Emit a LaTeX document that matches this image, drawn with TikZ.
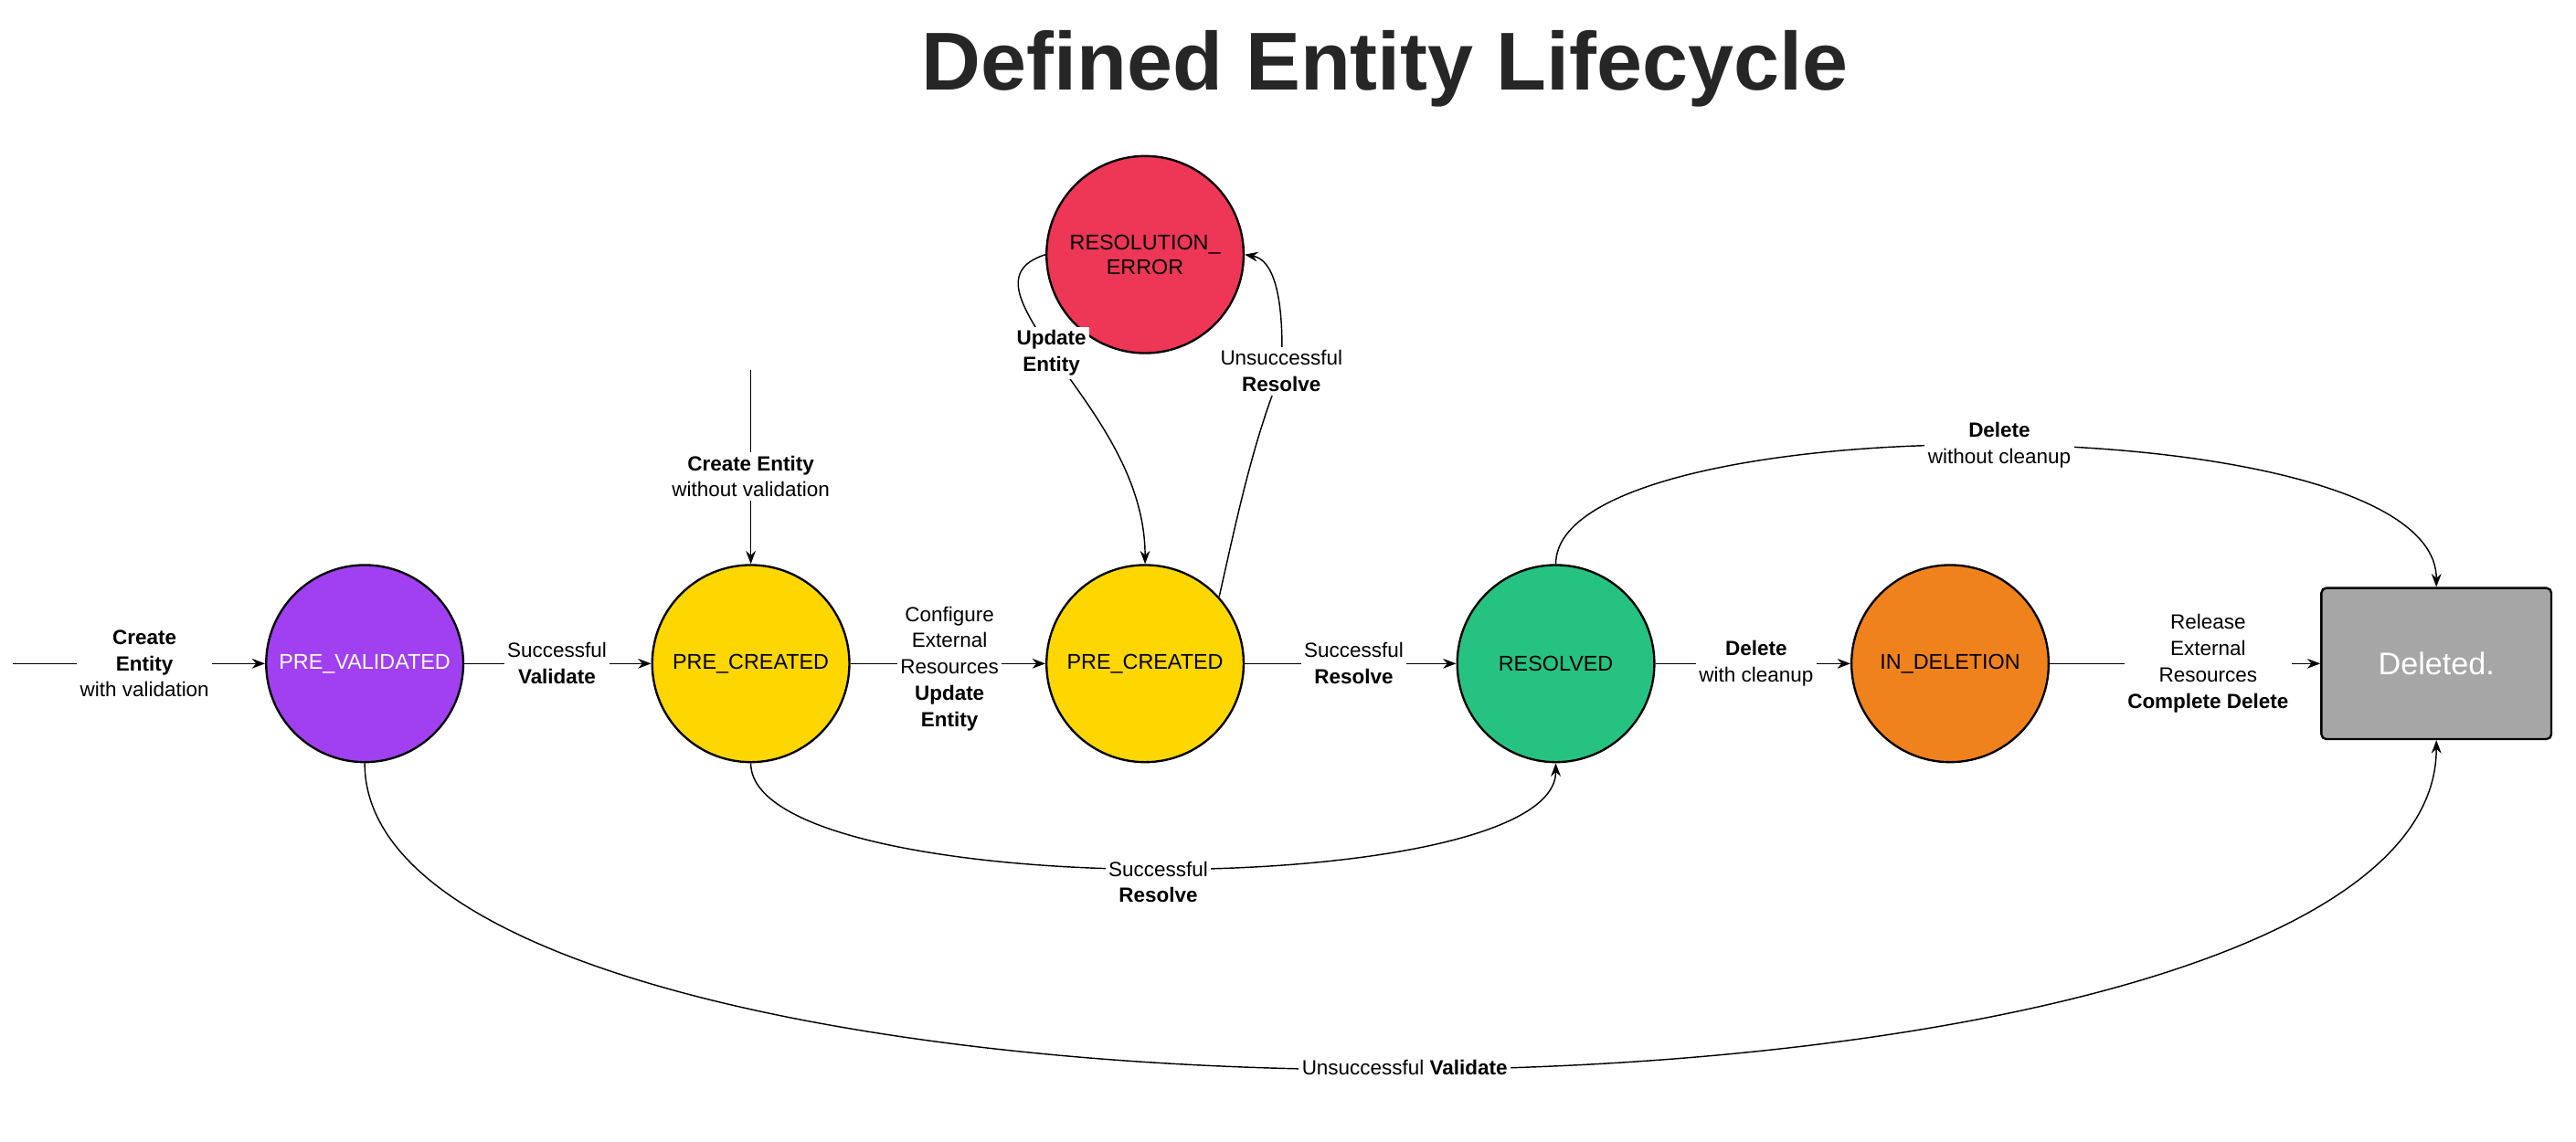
\documentclass[tikz,border=0pt]{standalone}
\usepackage{fontspec}
\setmainfont{Liberation Sans}
\usetikzlibrary{arrows.meta,backgrounds}
\definecolor{cpur}{HTML}{A040F0}
\definecolor{cyel}{HTML}{FFD700}
\definecolor{cred}{HTML}{EE3656}
\definecolor{cgrn}{HTML}{26C281}
\definecolor{corg}{HTML}{F0821E}
\definecolor{cgry}{HTML}{A6A6A6}
\begin{document}
\begin{tikzpicture}[x=1pt,y=-1pt,
  st/.style={circle,draw=black,line width=1.3pt,minimum size=120pt,inner sep=0pt,font=\fontsize{13}{15}\selectfont},
  lbl/.style={fill=white,align=center,inner sep=2pt,font=\fontsize{12.5}{16}\selectfont},
  ed/.style={line width=0.8pt,-{Stealth[length=8pt,width=6pt]}}]
\useasboundingbox (0,0) rectangle (1568,695);
\node[font=\fontsize{50}{56}\selectfont\bfseries,text=black!85] (title) at (843,42) {Defined Entity Lifecycle};
\node[st,fill=cpur,text=white] (pv) at (222,404) {PRE\_VALIDATED};
\node[st,fill=cyel] (pc1) at (457,404) {PRE\_CREATED};
\node[st,fill=cyel] (pc2) at (697,404) {PRE\_CREATED};
\node[st,fill=cgrn] (res) at (947,404) {RESOLVED};
\node[st,fill=corg] (ind) at (1187,404) {IN\_DELETION};
\node[st,fill=cred,align=center] (err) at (697,155) {RESOLUTION\_\\ERROR};
\node[draw=black,line width=1.3pt,fill=cgry,rounded corners=3pt,minimum width=140pt,minimum height=92pt,text=white,font=\fontsize{19}{22}\selectfont] (del) at (1483,404) {Deleted.};
\coordinate (s1) at (8,404);
\coordinate (s2) at (457,225);
\node[lbl] (l1) at (88,404) {\textbf{Create}\\\textbf{Entity}\\with validation};
\node[lbl] (l2) at (457,290) {\textbf{Create Entity}\\without validation};
\node[lbl] (l3) at (339,404) {Successful\\\textbf{Validate}};
\node[lbl] (l4) at (578,407) {Configure\\External\\Resources\\\textbf{Update}\\\textbf{Entity}};
\node[lbl] (l5) at (824,404) {Successful\\\textbf{Resolve}};
\node[lbl] (l6) at (1069,404) {\textbf{Delete}\\with cleanup};
\node[lbl] (l7) at (1344,404) {Release\\External\\Resources\\\textbf{Complete Delete}};
\node[lbl] (l8) at (705,537) {Successful\\\textbf{Resolve}};
\node[lbl] (l9) at (855,650) {Unsuccessful \textbf{Validate}};
\node[lbl] (l10) at (1217,271) {\textbf{Delete}\\without cleanup};
\node[lbl] (ue) at (640,215) {\textbf{Update}\\\textbf{Entity}};
\node[lbl] (ur) at (780,226) {Unsuccessful\\\textbf{Resolve}};
\begin{pgfonlayer}{background}
\draw[ed] (s1) -- (pv);
\draw[ed] (s2) -- (pc1.north);
\draw[ed] (pv) -- (pc1);
\draw[ed] (pc1) -- (pc2);
\draw[ed] (pc2) -- (res);
\draw[ed] (res) -- (ind);
\draw[ed] (ind) -- (del);
\draw[ed] (pc1.south) .. controls (457,550) and (947,550) .. (res.south);
\draw[ed] (pv.south) .. controls (222,715) and (1483,715) .. (del.south);
\draw[ed] (res.north) .. controls (947,245) and (1483,245) .. (del.north);
\draw[ed] (err.west) .. controls (605,165) and (625,190) .. (ue.center) .. controls (665,250) and (697,290) .. (pc2.north);
\draw[ed] (pc2.42) .. controls (752,320) and (762,270) .. (ur.center) .. controls (782,180) and (775,158) .. (err.east);
\end{pgfonlayer}
\end{tikzpicture}
\end{document}
